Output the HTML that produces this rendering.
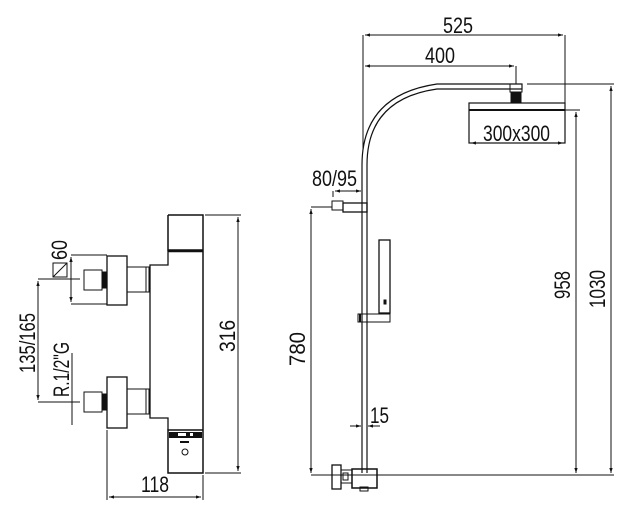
<!DOCTYPE html>
<html><head><style>body{margin:0;background:#fff}svg{display:block}text{font-family:"Liberation Sans",sans-serif;fill:#111}</style></head>
<body>
<svg width="630" height="519" viewBox="0 0 630 519" xmlns="http://www.w3.org/2000/svg">
<defs><marker id="a" viewBox="0 0 6 6" refX="6" refY="3" markerWidth="5" markerHeight="5" orient="auto-start-reverse"><path d="M0,1 L6,3 L0,5z" fill="#111"/></marker></defs>
<g stroke="#111" fill="none" stroke-width="1">
<path d="M168,215 H203 V473 H168 V430 H203" stroke-width="1.5"/>
<path d="M168,215 V250 H203" stroke-width="1.5"/>
<line x1="168" y1="251" x2="203" y2="251" stroke-width="2.5"/>
<path d="M168,250 V265 H150 V418 H168 V430" stroke-width="1.3"/>
<rect x="169" y="432" width="33" height="6" fill="#111" stroke="none"/>
<rect x="178" y="433" width="8" height="3" fill="#fff" stroke="none"/>
<rect x="190" y="433" width="3" height="3" fill="#fff" stroke="none"/>
<rect x="180" y="441" width="9" height="2" fill="#111" stroke="none"/>
<circle cx="185" cy="452" r="3"/>
<rect x="107" y="256" width="20" height="49" stroke-width="1.3"/>
<rect x="127" y="267" width="22" height="25"/><line x1="146" y1="267" x2="146" y2="292"/>
<rect x="84" y="270" width="18" height="20"/><rect x="102" y="272" width="5" height="16" fill="#111"/>
<rect x="107" y="377" width="20" height="51" stroke-width="1.3"/>
<rect x="127" y="389" width="22" height="25"/><line x1="146" y1="389" x2="146" y2="414"/>
<rect x="84" y="392" width="18" height="20"/><rect x="102" y="394" width="5" height="16" fill="#111"/>
<path d="M205,215 H241 M205,473 H241 M107,430 V500 M203,475 V500 M71,255 H107 M71,304 H107 M38,279 H80 M38,402 H80 M72,353 V425"/>
<line x1="238" y1="217" x2="238" y2="471" marker-start="url(#a)" marker-end="url(#a)"/>
<line x1="109" y1="497" x2="201" y2="497" marker-start="url(#a)" marker-end="url(#a)"/>
<line x1="38" y1="281" x2="38" y2="400" marker-start="url(#a)" marker-end="url(#a)"/>
<line x1="71" y1="257" x2="71" y2="302" marker-start="url(#a)" marker-end="url(#a)"/>
<rect x="53" y="263" width="14" height="14"/><line x1="53" y1="277" x2="67" y2="263"/>
<path d="M362,473 V165 Q362,95 437,84 H522 V89 H437 Q367,99 367,165 V473" stroke-width="1.2"/>
<rect x="510" y="84" width="12" height="8"/>
<rect x="511" y="92" width="10" height="10" fill="#111"/>
<rect x="469" y="103" width="96" height="40" stroke-width="1.2"/>
<line x1="469" y1="110" x2="565" y2="110" stroke-width="2"/>
<line x1="471" y1="143" x2="563" y2="143" marker-start="url(#a)" marker-end="url(#a)"/>
<path d="M363,35 V150 M565,35 V103 M516,66 V84 M527,84 H614 M565,110 H580 M311,475 H614 M311,207 H332 M333,191 V197"/>
<line x1="365" y1="35" x2="563" y2="35" marker-start="url(#a)" marker-end="url(#a)"/>
<line x1="365" y1="66" x2="514" y2="66" marker-start="url(#a)" marker-end="url(#a)"/>
<line x1="611" y1="86" x2="611" y2="473" marker-start="url(#a)" marker-end="url(#a)"/>
<line x1="576" y1="112" x2="576" y2="473" marker-start="url(#a)" marker-end="url(#a)"/>
<line x1="311" y1="209" x2="311" y2="473" marker-start="url(#a)" marker-end="url(#a)"/>
<line x1="335" y1="191" x2="361" y2="191" marker-start="url(#a)" marker-end="url(#a)"/>
<rect x="332" y="201" width="11" height="9"/>
<rect x="343" y="203" width="24" height="9" stroke-width="1.3"/>
<rect x="379" y="240" width="11" height="73" stroke-width="1.3"/>
<rect x="384" y="300" width="2" height="4" fill="#111"/>
<rect x="358" y="314" width="32" height="8"/>
<line x1="360" y1="314" x2="360" y2="322" stroke-width="2"/>
<line x1="350" y1="426" x2="361" y2="426" marker-end="url(#a)"/>
<line x1="380" y1="426" x2="368" y2="426" marker-end="url(#a)"/>
<rect x="332" y="465" width="9" height="24" stroke-width="1.3"/>
<rect x="341" y="470" width="11" height="13"/><rect x="343" y="473" width="5" height="7"/>
<rect x="352" y="469" width="25" height="19" stroke-width="1.5"/>
<rect x="360" y="487" width="8" height="4"/>
</g>
<g font-size="22">
<text x="443" y="33" textLength="30" lengthAdjust="spacingAndGlyphs">525</text>
<text x="425" y="63" textLength="30" lengthAdjust="spacingAndGlyphs">400</text>
<text x="483" y="141" textLength="67" lengthAdjust="spacingAndGlyphs">300x300</text>
<text x="312" y="186" textLength="45" lengthAdjust="spacingAndGlyphs">80/95</text>
<text x="370" y="423" textLength="19" lengthAdjust="spacingAndGlyphs">15</text>
<text x="141" y="492" textLength="28" lengthAdjust="spacingAndGlyphs">118</text>
<text transform="translate(570,299) rotate(-90)" textLength="28" lengthAdjust="spacingAndGlyphs">958</text>
<text transform="translate(605,308) rotate(-90)" textLength="38" lengthAdjust="spacingAndGlyphs">1030</text>
<text transform="translate(305,366) rotate(-90)" textLength="34" lengthAdjust="spacingAndGlyphs">780</text>
<text transform="translate(235,352) rotate(-90)" textLength="32" lengthAdjust="spacingAndGlyphs">316</text>
<text transform="translate(35,373) rotate(-90)" textLength="60" lengthAdjust="spacingAndGlyphs">135/165</text>
<text transform="translate(69,397) rotate(-90)" textLength="55" lengthAdjust="spacingAndGlyphs">R.1/2"G</text>
<text transform="translate(67,260) rotate(-90)" textLength="20" lengthAdjust="spacingAndGlyphs">60</text>
</g>
</svg>
</body></html>
